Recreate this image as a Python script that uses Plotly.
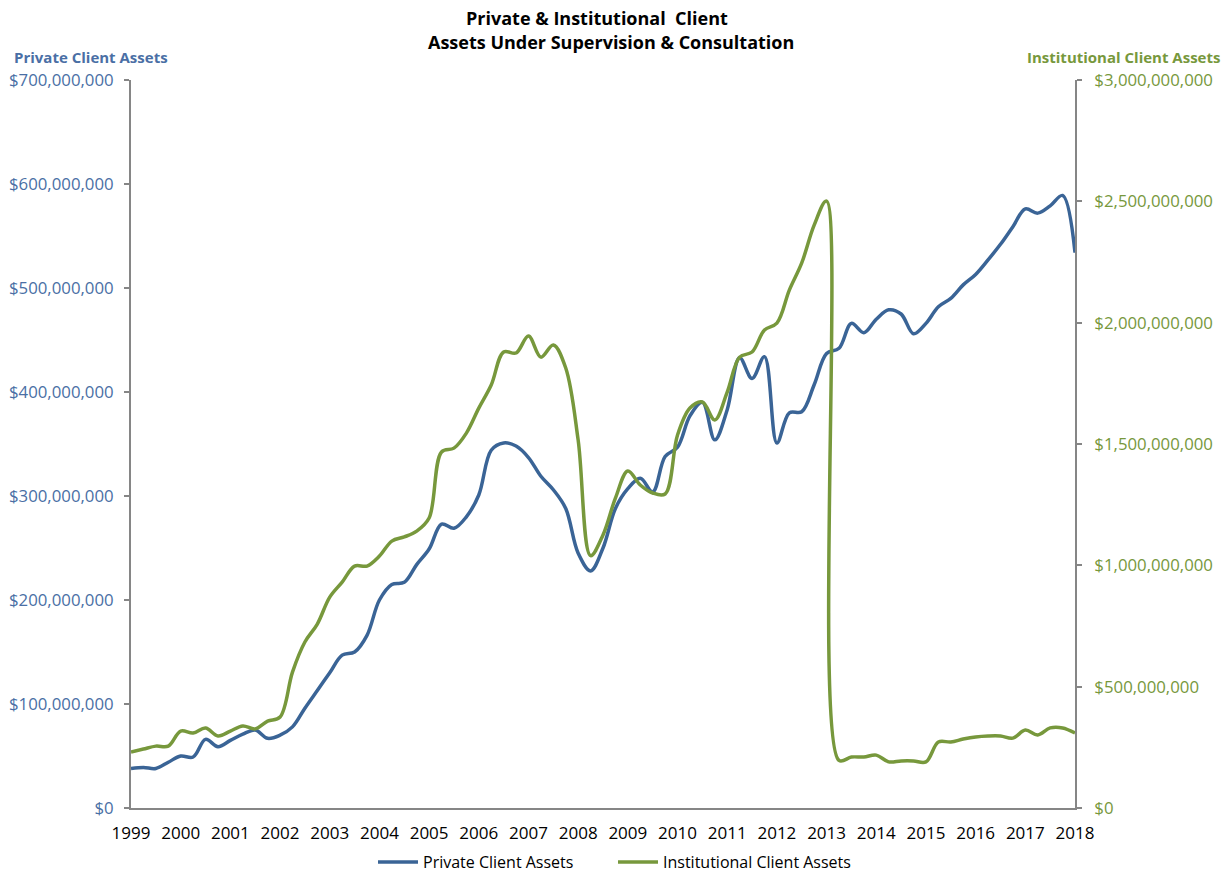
import plotly.graph_objects as go

# Quarterly observations, 1999 Q1 .. 2018 Q1 (decimal years)
quarters = [1999 + 0.25 * i for i in range(77)]

# Private client assets, $ millions (left axis)
private_m = [
    38, 39, 38, 44, 50, 49, 66, 59, 65, 71, 75, 67,
    70, 78, 96, 113, 130, 147, 150, 166, 200, 215, 217, 234,
    249, 273, 269, 280, 301, 344, 351, 348, 337, 319, 306, 288,
    245, 228, 250, 288, 307, 317, 304, 338, 347, 377, 390, 354,
    383, 433, 413, 434, 351, 380, 381, 407, 437, 442, 466, 457,
    470, 479, 475, 456, 466, 482, 490, 503, 513, 527, 542, 559,
    576, 572, 579, 589, 534,
]

# Institutional client assets, $ millions (right axis)
institutional_m = [
    231, 243, 255, 255, 317, 309, 330, 297, 317, 338, 326, 358,
    375, 560, 684, 758, 869, 931, 997, 997, 1038, 1100, 1117, 1141,
    1195, 1467, 1483, 1545, 1648, 1743, 1879, 1875, 1945, 1858, 1908, 1813,
    1516, 1040, 1125, 1277, 1389, 1331, 1298, 1294, 1537, 1648, 1673, 1599,
    1714, 1858, 1879, 1970, 1998, 2134, 2246, 2402, 2501, 196, 210, 210,
    218, 190, 194, 194, 190, 272, 272, 284, 293, 297, 297, 288,
    321, 301, 330, 330, 309,
]

year_ticks = list(range(1999, 2019))
left_ticks = [i * 100_000_000 for i in range(8)]
right_ticks = [i * 500_000_000 for i in range(7)]
left_labels = ["$" + format(v, ",") for v in left_ticks]
right_labels = ["$" + format(v, ",") for v in right_ticks]

BLUE = "#3A6496"
GREEN = "#77983C"
BLUE_TXT = "#4A6FA5"
GREEN_TXT = "#77983C"
AXIS = "#868686"
FONT = "Open Sans"

fig = go.Figure()
fig.add_trace(go.Scatter(
    x=quarters, y=[v * 1e6 for v in private_m], name="Private Client Assets",
    mode="lines", line=dict(color=BLUE, width=3.5, shape="spline", smoothing=1.0),
    yaxis="y"))
fig.add_trace(go.Scatter(
    x=quarters, y=[v * 1e6 for v in institutional_m], name="Institutional Client Assets",
    mode="lines", line=dict(color=GREEN, width=3.5, shape="spline", smoothing=1.0),
    yaxis="y2"))

fig.update_layout(
    template="none",
    width=1224, height=867,
    paper_bgcolor="white", plot_bgcolor="white",
    margin=dict(l=123, r=157, t=72, b=67, autoexpand=False),
    font=dict(family=FONT, size=16, color="black"),
    xaxis=dict(
        range=[1999, 2018], tickmode="array", tickvals=year_ticks,
        ticktext=[str(y) for y in year_ticks], automargin=False,
        showgrid=False, zeroline=False, showline=True, linecolor=AXIS, linewidth=2,
        ticks="", ticklabelstandoff=9, tickfont=dict(size=17, color="black")),
    yaxis=dict(
        range=[0, 700_000_000], tickmode="array", tickvals=left_ticks,
        ticktext=left_labels, automargin=False,
        showgrid=False, zeroline=False, showline=True, linecolor=AXIS, linewidth=2,
        ticks="outside", ticklen=5, tickcolor=AXIS, tickwidth=1.5,
        ticklabelstandoff=7, tickfont=dict(size=16.8, color=BLUE_TXT)),
    yaxis2=dict(
        range=[0, 3_000_000_000], tickmode="array", tickvals=right_ticks,
        ticktext=right_labels, overlaying="y", side="right", automargin=False,
        showgrid=False, zeroline=False, showline=True, linecolor=AXIS, linewidth=2,
        ticks="outside", ticklen=5, tickcolor=AXIS, tickwidth=1.5,
        ticklabelstandoff=9, tickfont=dict(size=16.8, color=GREEN_TXT)),
    legend=dict(
        orientation="h", x=0.5106, xanchor="center", y=-0.051, yanchor="top",
        font=dict(size=16, color="black"), bgcolor="rgba(0,0,0,0)",
        itemwidth=40, entrywidth=185, entrywidthmode="pixels"),
    showlegend=True,
)

fig.add_annotation(
    text="<b>Private & Institutional&nbsp; Client</b>",
    xref="paper", yref="paper", x=0.4936, xanchor="center", y=1.0855, yanchor="middle",
    showarrow=False, font=dict(family=FONT, size=18, color="black"))
fig.add_annotation(
    text="<b>Assets Under Supervision & Consultation</b>",
    xref="paper", yref="paper", x=0.5085, xanchor="center", y=1.0522, yanchor="middle",
    showarrow=False, font=dict(family=FONT, size=18, color="black"))
fig.add_annotation(
    text="<b>Private Client Assets</b>", xref="paper", yref="paper",
    x=-0.1261, xanchor="left", y=1.0316, yanchor="middle", showarrow=False,
    font=dict(family=FONT, size=15, color=BLUE_TXT))
fig.add_annotation(
    text="<b>Institutional Client Assets</b>", xref="paper", yref="paper",
    x=1.1557, xanchor="right", y=1.0316, yanchor="middle", showarrow=False,
    font=dict(family=FONT, size=15, color=GREEN_TXT))

fig.write_html("out.html")
